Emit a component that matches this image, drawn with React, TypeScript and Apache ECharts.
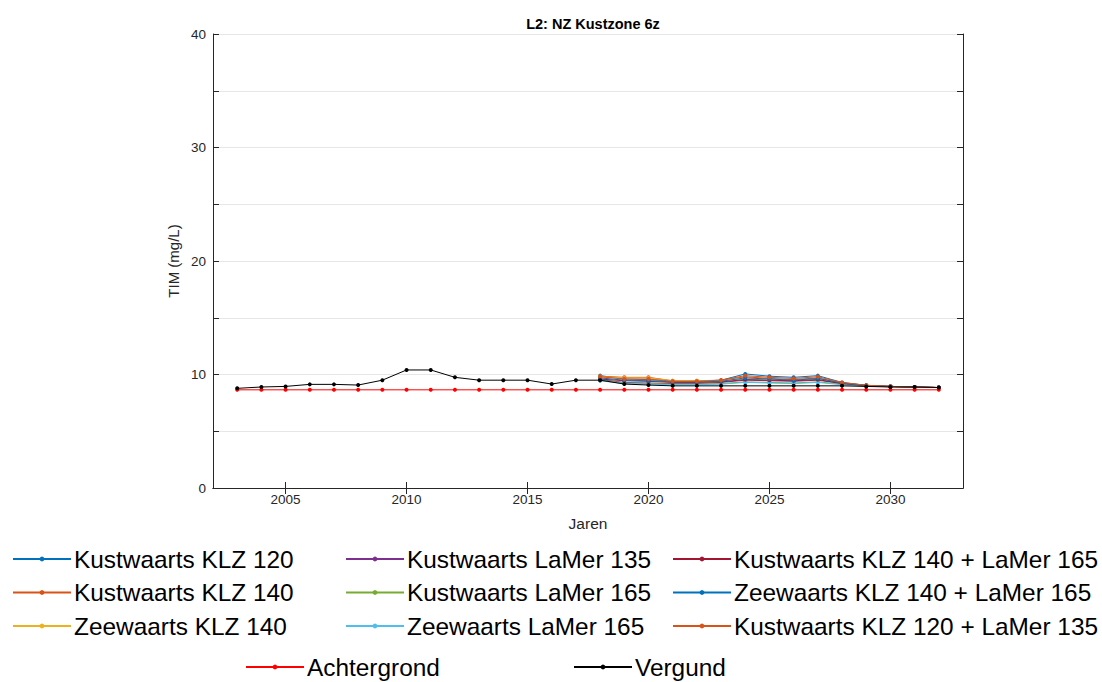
import React, { useEffect, useRef } from "react";
import * as echarts from "echarts";

const years = [2003, 2004, 2005, 2006, 2007, 2008, 2009, 2010, 2011, 2012, 2013, 2014, 2015, 2016, 2017, 2018, 2019, 2020, 2021, 2022, 2023, 2024, 2025, 2026, 2027, 2028, 2029, 2030, 2031, 2032];
const scenarioYears = [2018, 2019, 2020, 2021, 2022, 2023, 2024, 2025, 2026, 2027, 2028, 2029, 2030, 2031, 2032];

const xTicks = [2005, 2010, 2015, 2020, 2025, 2030];

const achtergrond = [8.65, 8.65, 8.65, 8.65, 8.65, 8.65, 8.65, 8.65, 8.65, 8.65, 8.65, 8.65, 8.65, 8.65, 8.65, 8.65, 8.65, 8.65, 8.65, 8.65, 8.65, 8.65, 8.65, 8.65, 8.65, 8.65, 8.65, 8.65, 8.65, 8.65];
const vergund = [8.78, 8.9, 8.95, 9.13, 9.13, 9.07, 9.5, 10.4, 10.4, 9.75, 9.5, 9.5, 9.5, 9.16, 9.5, 9.5, 9.16, 9.07, 9.0, 9.0, 9.0, 9.0, 9.0, 9.0, 9.0, 9.0, 8.95, 8.9, 8.9, 8.85];

const kustKLZ120 = [9.9, 9.6, 9.55, 9.4, 9.4, 9.5, 10.05, 9.85, 9.75, 9.9, 9.3, 9.05, 8.95, 8.9, 8.85];
const kustKLZ140 = [9.85, 9.75, 9.75, 9.45, 9.45, 9.5, 9.8, 9.65, 9.55, 9.7, 9.25, 9.05, 8.95, 8.9, 8.85];
const zeeKLZ140 = [9.8, 9.7, 9.7, 9.45, 9.45, 9.45, 9.6, 9.5, 9.45, 9.55, 9.2, 9.0, 8.95, 8.9, 8.85];
const kustLaMer135 = [9.55, 9.3, 9.25, 9.2, 9.2, 9.3, 9.5, 9.45, 9.4, 9.5, 9.2, 9.0, 8.95, 8.9, 8.85];
const kustLaMer165 = [9.5, 9.25, 9.2, 9.15, 9.15, 9.2, 9.35, 9.3, 9.25, 9.35, 9.15, 9.0, 8.92, 8.9, 8.85];
const zeeLaMer165 = [9.45, 9.2, 9.15, 9.1, 9.1, 9.15, 9.3, 9.25, 9.2, 9.3, 9.1, 8.98, 8.92, 8.9, 8.85];
const kustKLZ140LaMer165 = [9.6, 9.45, 9.4, 9.3, 9.3, 9.35, 9.55, 9.5, 9.45, 9.55, 9.2, 9.02, 8.95, 8.9, 8.85];
const zeeKLZ140LaMer165 = [9.7, 9.5, 9.45, 9.35, 9.35, 9.4, 9.7, 9.6, 9.5, 9.65, 9.25, 9.03, 8.95, 8.9, 8.85];
const kustKLZ120LaMer135 = [9.8, 9.6, 9.6, 9.4, 9.4, 9.5, 9.9, 9.75, 9.65, 9.8, 9.3, 9.05, 8.95, 8.9, 8.85];

const scenarioNames = [
  "Kustwaarts KLZ 120",
  "Kustwaarts KLZ 140",
  "Zeewaarts KLZ 140",
  "Kustwaarts LaMer 135",
  "Kustwaarts LaMer 165",
  "Zeewaarts LaMer 165",
  "Kustwaarts KLZ 140 + LaMer 165",
  "Zeewaarts KLZ 140 + LaMer 165",
  "Kustwaarts KLZ 120 + LaMer 135",
];
const scenarioValues = [
  kustKLZ120,
  kustKLZ140,
  zeeKLZ140,
  kustLaMer135,
  kustLaMer165,
  zeeLaMer165,
  kustKLZ140LaMer165,
  zeeKLZ140LaMer165,
  kustKLZ120LaMer135,
];
const scenarioColors = ["#0072BD", "#D95319", "#EDB120", "#7E2F8E", "#77AC30", "#4DBEEE", "#A2142F", "#0072BD", "#D95319"];

const FONT = "'Liberation Sans', Arial, sans-serif";

export default function App() {
  const ref = useRef<HTMLDivElement>(null);

  useEffect(() => {
    if (!ref.current) return;
    const chart = echarts.init(ref.current, undefined, { renderer: "svg" });

    const mkLine = (name: string, xs: number[], ys: number[], color: string, z: number) => ({
      name,
      type: "line",
      data: xs.map((x, i) => [x, ys[i]]),
      symbol: "circle",
      symbolSize: 4,
      showSymbol: true,
      lineStyle: { color, width: 1 },
      itemStyle: { color },
      z,
      emphasis: { disabled: true },
    });

    const series: any[] = scenarioNames.map((n, i) => mkLine(n, scenarioYears, scenarioValues[i], scenarioColors[i], 2));
    series.push(mkLine("Achtergrond", years, achtergrond, "#FF0000", 3));
    series.push(mkLine("Vergund", years, vergund, "#000000", 4));

    const legendCommon = {
      orient: "vertical",
      padding: 0,
      itemWidth: 58,
      itemHeight: 6,
      itemGap: 7.5,
      selectedMode: false,
      textStyle: { fontFamily: FONT, fontSize: 24.4, color: "#000", lineHeight: 26, padding: [0, 0, 0, -2] },
      lineStyle: { width: 2 },
    };

    const axisLabelStyle = { fontFamily: FONT, fontSize: 13.5, color: "#262626" };
    const axisLineStyle = { lineStyle: { color: "#262626", width: 1 } };

    chart.setOption({
      animation: false,
      backgroundColor: "#fff",
      title: {
        text: "L2: NZ Kustzone 6z",
        left: 588,
        textAlign: "center",
        top: 11,
        textStyle: { fontFamily: FONT, fontSize: 14.5, fontWeight: "bold", color: "#000" },
      },
      grid: { left: 213, right: 139, top: 34, bottom: 194, containLabel: false },
      xAxis: [
        {
          type: "value",
          min: 2002,
          max: 2033,
          position: "bottom",
          name: "Jaren",
          nameLocation: "middle",
          nameGap: 27,
          nameMoveOverlap: false,
          nameTextStyle: { fontFamily: FONT, fontSize: 15.5, color: "#262626" },
          axisLine: axisLineStyle,
          axisTick: { show: true, inside: true, length: 6, customValues: xTicks, lineStyle: { color: "#262626" } },
          axisLabel: { ...axisLabelStyle, customValues: xTicks, margin: 4, formatter: (v: number) => String(v) },
          splitLine: { show: false },
        },
        {
          type: "value",
          min: 2002,
          max: 2033,
          position: "top",
          axisLine: axisLineStyle,
          axisTick: { show: true, inside: true, length: 6, customValues: xTicks, lineStyle: { color: "#262626" } },
          axisLabel: { show: false },
          splitLine: { show: false },
        },
      ],
      yAxis: [
        {
          type: "value",
          min: 0,
          max: 40,
          interval: 5,
          position: "left",
          name: "TIM (mg/L)",
          nameLocation: "middle",
          nameGap: 32,
          nameMoveOverlap: false,
          nameTextStyle: { fontFamily: FONT, fontSize: 15, color: "#262626" },
          axisLine: { show: true, ...axisLineStyle },
          axisTick: { show: true, inside: true, length: 6, lineStyle: { color: "#262626" } },
          axisLabel: {
            ...axisLabelStyle,
            margin: 7,
            formatter: (v: number) => (v % 10 === 0 ? String(v) : ""),
          },
          splitLine: { show: true, lineStyle: { color: "#e6e6e6", width: 1 } },
        },
        {
          type: "value",
          min: 0,
          max: 40,
          interval: 5,
          position: "right",
          axisLine: { show: true, ...axisLineStyle },
          axisTick: { show: true, inside: true, length: 6, lineStyle: { color: "#262626" } },
          axisLabel: { show: false },
          splitLine: { show: false },
        },
      ],
      legend: [
        { ...legendCommon, left: 12, top: 546, data: scenarioNames.slice(0, 3) },
        { ...legendCommon, left: 345, top: 546, data: scenarioNames.slice(3, 6) },
        { ...legendCommon, left: 672, top: 546, data: scenarioNames.slice(6, 9) },
        { ...legendCommon, left: 245, top: 654, data: ["Achtergrond"] },
        { ...legendCommon, left: 573, top: 654, data: ["Vergund"] },
      ],
      series,
    });

    return () => chart.dispose();
  }, []);

  return <div ref={ref} style={{ position: "fixed", left: 0, top: 0, width: 1102, height: 682 }} />;
}
